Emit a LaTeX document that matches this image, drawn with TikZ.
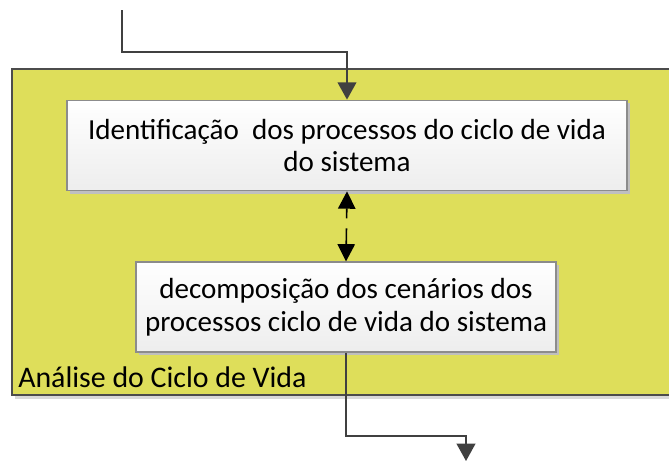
\documentclass[tikz,border=0pt]{standalone}
\usepackage{fontspec}
\setmainfont{Carlito}
\usetikzlibrary{arrows.meta,shadows}
\definecolor{ciclo}{RGB}{222,222,90}
\definecolor{seta}{RGB}{64,64,64}

\begin{document}
\begin{tikzpicture}[x=0.75pt,y=-0.75pt,
  etapa/.style={draw=black!45, line width=0.8pt, top color=white, bottom color=black!7,
    align=center, inner sep=0pt, font=\fontsize{21.8}{24.5}\selectfont,
    drop shadow={shadow xshift=2pt, shadow yshift=-2pt, fill=black!25, opacity=1}},
  fluxo/.style={draw=seta, line width=1.5pt, -{Triangle[length=13pt,width=14pt]}},
  troca/.style={draw=black, line width=1.2pt, dash pattern=on 7.5pt off 7.5pt on 40pt,
    {Triangle[length=13pt,width=13pt]}-{Triangle[length=13pt,width=13pt]}}]
	\clip (0,0) rectangle (669,461);
	% fundo da fase
	\fill[black!15] (15,72) rectangle (700,399);
	\draw[fill=ciclo, draw=black!70, line width=0.8pt] (12,69) rectangle (700,395);
	\node[anchor=base west, inner sep=0pt, font=\fontsize{22.4}{24}\selectfont] (fase) at (18,387) {Análise do Ciclo de Vida};
	% etapas
	\node[etapa, minimum width=420pt, minimum height=68pt] (ident) at (347,145.5)
		{Identificação\ \ dos processos do ciclo de vida\\do sistema};
	\node[etapa, minimum width=315pt, minimum height=67.5pt] (decomp) at (346,307)
		{decomposição dos cenários dos\\processos ciclo de vida do sistema};
	% ligações
	\coordinate (entrada) at (122,10);
	\coordinate (saida) at (466,461);
	\draw[fluxo] (entrada) -- ++(0,42) -| (ident.north);
	\draw[troca] (ident.south) -- (decomp.north);
	\draw[fluxo] (decomp.south) -- ++(0,83) -| (saida);
\end{tikzpicture}
\end{document}
